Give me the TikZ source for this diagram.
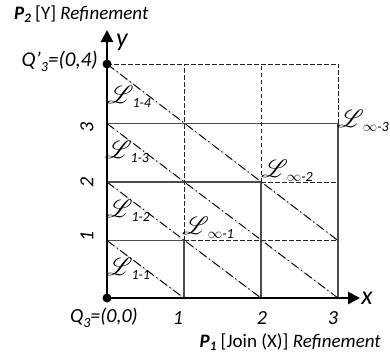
\documentclass[tikz,border=0pt]{standalone}
\usepackage{fontspec}
\setmainfont{Carlito}
\usepackage{mathrsfs}
\usetikzlibrary{arrows.meta}
\newcommand{\Lsub}[1]{$\mathscr{L}$\kern-1pt\raisebox{-0.3ex}{\fontsize{14}{15}\selectfont\itshape #1}}
\begin{document}
\begin{tikzpicture}[x=1pt,y=-1pt,
  axis/.style={line width=2.8pt,-{Triangle[length=12pt,width=12pt]}},
  gridsolid/.style={line width=1.2pt,draw=black!70},
  griddash/.style={line width=0.95pt,dash pattern=on 4.5pt off 2.5pt,draw=black!85},
  diag/.style={line width=0.9pt,dash pattern=on 9pt off 3pt on 1.5pt off 3pt},
  diagshadow/.style={line width=1.1pt,dash pattern=on 9pt off 3pt on 1.5pt off 3pt,draw=black!20},
  lab/.style={font=\fontsize{20}{24}\selectfont\itshape, inner sep=0pt},
  axlab/.style={font=\fontsize{26}{30}\selectfont\itshape, inner sep=0pt},
  Llab/.style={font=\fontsize{26}{30}\selectfont, inner sep=0pt},
  ttl/.style={font=\fontsize{19}{22}\selectfont, inner sep=0pt},
  dot/.style={circle,fill=black,inner sep=0pt,minimum size=9pt}]
\useasboundingbox (0,0) rectangle (390,354);
\foreach \i/\x in {0/107,1/184,2/261,3/338}{
  \foreach \j/\y in {0/298,1/240.5,2/182,3/123.5,4/64}{
    \coordinate (p\i\j) at (\x,\y);}}
\coordinate (yt) at (107,30);
\coordinate (xt) at (360,298);
% diagonals (with soft shadow)
\foreach \a/\b in {01/10,02/20,03/30,04/31}{
  \draw[diagshadow] ([shift={(1.4,1.4)}]p\a) -- ([shift={(1.4,1.4)}]p\b);
  \draw[diag] (p\a) -- (p\b);}
% solid staircase grid
\draw[gridsolid] (p01) -- (p11) -- (p10);
\draw[gridsolid] (p02) -- (p22) -- (p20);
\draw[gridsolid] (p03) -- (p33) -- (p30);
% dashed grid
\draw[griddash] (p11) -- (p31);
\draw[griddash] (p22) -- (p32);
\draw[griddash] (p11) -- (p14);
\draw[griddash] (p22) -- (p24);
\draw[griddash] (p33) -- (p34);
\draw[griddash] (p04) -- (p34);
% axes
\draw[axis] (p00) -- (yt);
\draw[axis] (p00) -- (xt);
\node[dot] (o) at (p00) {};
\node[dot] (q) at (p04) {};
% axis labels
\node[axlab] (ylab) at (122,42) {y};
\node[axlab] (xlab) at (367,298) {x};
\node[lab,anchor=east,font=\fontsize{21}{24}\selectfont\itshape] (qtop) at (98,61) {Q’\raisebox{-0.5ex}{\fontsize{14}{15}\selectfont 3}=(0,4)};
\node[lab,anchor=east] (qorg) at (138,318) {Q\raisebox{-0.5ex}{\fontsize{14}{15}\selectfont 3}=(0,0)};
\node[lab] (tx1) at (178,318) {1};
\node[lab] (tx2) at (262,318) {2};
\node[lab] (tx3) at (333,318) {3};
\node[lab,rotate=90] (ty1) at (87,236) {1};
\node[lab,rotate=90] (ty2) at (87,182) {2};
\node[lab,rotate=90] (ty3) at (87,127) {3};
% L labels
\node[Llab] (l14) at (129,97) {\Lsub{1-4}};
\node[Llab] (l13) at (127,152) {\Lsub{1-3}};
\node[Llab] (l12) at (128,211) {\Lsub{1-2}};
\node[Llab] (l11) at (128,269) {\Lsub{1-1}};
\node[Llab] (li1) at (208,228) {\Lsub{$\infty$-1}};
\node[Llab] (li2) at (287,171) {\Lsub{$\infty$-2}};
\node[Llab] (li3) at (363,121) {\Lsub{$\infty$-3}};
% titles
\node[ttl,anchor=west] (p2) at (14,14) {\textbf{\textit{P\raisebox{-0.4ex}{\fontsize{13}{14}\selectfont 2}}} [Y] \textit{Refinement}};
\node[ttl,anchor=east] (p1) at (381,342) {\textbf{\textit{P\raisebox{-0.4ex}{\fontsize{13}{14}\selectfont 1}}} [Join (X)] \textit{Refinement}};
\end{tikzpicture}
\end{document}
